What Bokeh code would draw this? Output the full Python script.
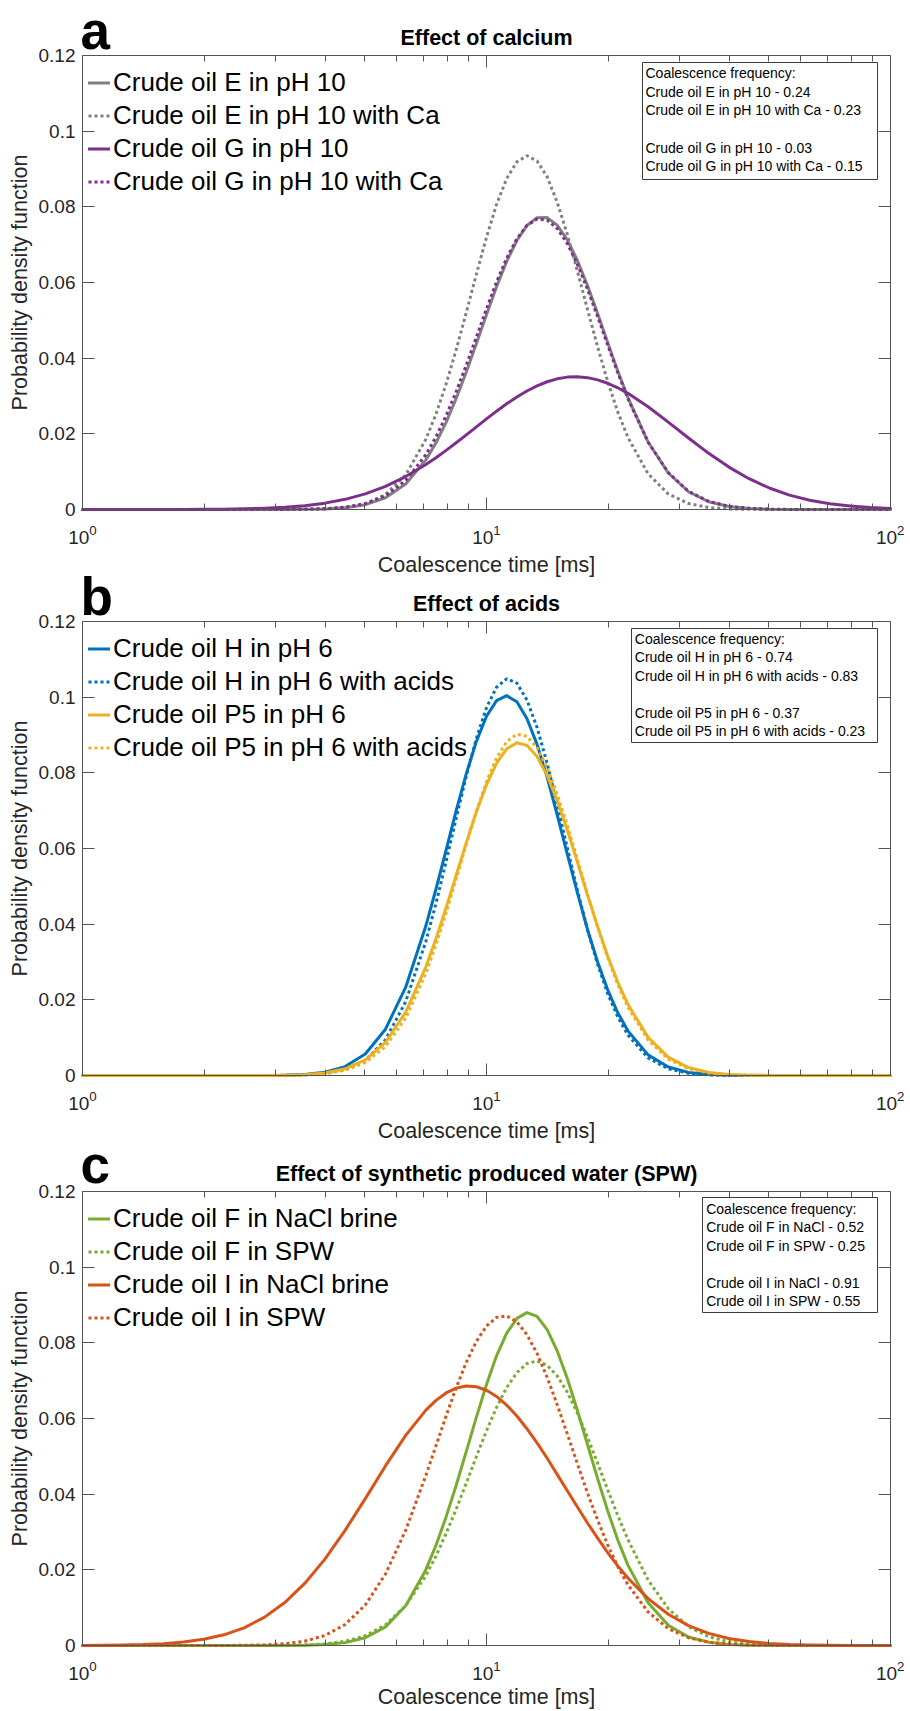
import math
from bokeh.plotting import figure
from bokeh.models import (LogAxis, LinearAxis, FixedTicker, Range1d, Legend, LegendItem,
                          Label, BoxAnnotation)
from bokeh.embed import file_html
from bokeh.resources import INLINE

# ---------------- data ----------------
time_ms = [1.0, 1.122, 1.259, 1.413, 1.585, 1.778, 1.995, 2.239, 2.512, 2.818,
           3.162, 3.548, 3.981, 4.467, 5.012, 5.623, 6.310, 7.079,
           7.499, 7.943, 8.414, 8.913, 9.441, 10.0, 10.59, 11.22, 11.89, 12.59,
           13.34, 14.13, 14.96, 15.85, 16.79, 17.78, 18.84, 19.95, 21.13, 22.39,
           25.12, 28.18, 31.62, 35.48, 39.81, 44.67, 50.12, 56.23, 63.10, 70.79,
           79.43, 89.13, 100.0]

# panel a - effect of calcium
e_ph10 = [0, 0, 0, 0, 0, 0, 0, 0, 0, 0,
          0.00001, 0.00005, 0.00016, 0.00047, 0.00128, 0.0031, 0.00672, 0.01312,
          0.01763, 0.02303, 0.02934, 0.03634, 0.04385, 0.0515, 0.0589, 0.06559, 0.0711, 0.07505,
          0.07712, 0.07716, 0.07516, 0.07129, 0.06583, 0.05919, 0.05181, 0.04416, 0.03663, 0.0296,
          0.01783, 0.00965, 0.00469, 0.00205, 0.00081, 0.00028, 0.00009, 0.00002, 0, 0,
          0, 0, 0]
e_ph10_ca = [0, 0, 0, 0, 0, 0, 0, 0, 0, 0,
             0.00001, 0.00004, 0.00015, 0.0005, 0.00151, 0.00397, 0.00914, 0.01858,
             0.02522, 0.03315, 0.04223, 0.05209, 0.06221, 0.07197, 0.08063, 0.08747, 0.09189, 0.0935,
             0.09213, 0.08792, 0.08124, 0.07271, 0.06302, 0.0529, 0.043, 0.03385, 0.02581, 0.01905,
             0.00943, 0.00411, 0.00157, 0.00053, 0.00016, 0.00004, 0.00001, 0, 0, 0,
             0, 0, 0]
g_ph10 = [0, 0, 0, 0, 0.00001, 0.00002, 0.00004, 0.00009, 0.00017, 0.00032,
          0.00058, 0.00101, 0.00168, 0.00269, 0.00414, 0.00612, 0.00871, 0.0119,
          0.0137, 0.01563, 0.01764, 0.01973, 0.02184, 0.02394, 0.02599, 0.02793, 0.02973, 0.03132,
          0.03269, 0.03377, 0.03454, 0.03499, 0.03509, 0.03485, 0.03427, 0.03337, 0.03217, 0.03071,
          0.02717, 0.0231, 0.01889, 0.01484, 0.01121, 0.00814, 0.00568, 0.00381, 0.00246, 0.00152,
          0.00091, 0.00052, 0.00029]
g_ph10_ca = [0, 0, 0, 0, 0, 0, 0, 0, 0, 0,
             0.00002, 0.00007, 0.00021, 0.00061, 0.00156, 0.00364, 0.00766, 0.01451,
             0.01921, 0.02478, 0.03117, 0.03819, 0.04559, 0.05305, 0.06015, 0.06646, 0.07156, 0.07509,
             0.07677, 0.07649, 0.07427, 0.07028, 0.0648, 0.05822, 0.05098, 0.04349, 0.03617, 0.02931,
             0.0178, 0.00975, 0.00482, 0.00215, 0.00086, 0.00031, 0.0001, 0.00003, 0, 0,
             0, 0, 0]

# panel b - effect of acids
h_ph6 = [0, 0, 0, 0, 0, 0, 0, 0, 0, 0.00002,
         0.00008, 0.00028, 0.00087, 0.00236, 0.0057, 0.01224, 0.02334, 0.03957,
         0.04929, 0.0596, 0.06998, 0.07979, 0.08833, 0.09494, 0.09907, 0.1004, 0.09877, 0.09436,
         0.08752, 0.07882, 0.06892, 0.05851, 0.04824, 0.0386, 0.03, 0.02264, 0.01659, 0.0118,
         0.00546, 0.00225, 0.00082, 0.00027, 0.00008, 0.00002, 0, 0, 0, 0,
         0, 0, 0]
h_ph6_acids = [0, 0, 0, 0, 0, 0, 0, 0, 0, 0.00001,
               0.00004, 0.00014, 0.00049, 0.00149, 0.004, 0.00943, 0.01952, 0.03545,
               0.04551, 0.05653, 0.06799, 0.07914, 0.08914, 0.09722, 0.10262, 0.10486, 0.1037, 0.09927,
               0.09199, 0.0825, 0.07163, 0.06018, 0.04896, 0.03854, 0.02937, 0.02166, 0.01546, 0.01069,
               0.00463, 0.00176, 0.00059, 0.00017, 0.00004, 0, 0, 0, 0, 0,
               0, 0, 0]
p5_ph6 = [0, 0, 0, 0, 0, 0, 0, 0, 0, 0.00002,
          0.00007, 0.00023, 0.00067, 0.00176, 0.00414, 0.00878, 0.01675, 0.02872,
          0.03616, 0.04432, 0.05292, 0.06154, 0.06969, 0.07685, 0.08254, 0.08634, 0.08796, 0.08726,
          0.0843, 0.07933, 0.0727, 0.06488, 0.05639, 0.04773, 0.03935, 0.03159, 0.0247, 0.01881,
          0.01008, 0.00485, 0.0021, 0.00082, 0.00029, 0.00009, 0.00003, 0, 0, 0,
          0, 0, 0]
p5_ph6_acids = [0, 0, 0, 0, 0, 0, 0, 0, 0, 0.00001,
                0.00005, 0.00016, 0.0005, 0.00138, 0.00343, 0.00765, 0.01521, 0.02704,
                0.03458, 0.043, 0.05198, 0.06112, 0.06987, 0.07768, 0.08396, 0.08825, 0.0902, 0.08965,
                0.08663, 0.08141, 0.0744, 0.06611, 0.05712, 0.04799, 0.0392, 0.03114, 0.02406, 0.01807,
                0.00937, 0.00434, 0.0018, 0.00067, 0.00022, 0.00007, 0.00002, 0, 0, 0,
                0, 0, 0]

# panel c - effect of synthetic produced water
f_nacl = [0, 0, 0, 0, 0, 0, 0, 0, 0, 0,
          0.00002, 0.00007, 0.00025, 0.00076, 0.00205, 0.00493, 0.01053, 0.02005,
          0.02649, 0.03399, 0.04236, 0.0513, 0.06035, 0.06897, 0.07656, 0.08255, 0.08647, 0.08799,
          0.08698, 0.08351, 0.0779, 0.07058, 0.06213, 0.05312, 0.04412, 0.0356, 0.0279, 0.02124,
          0.01129, 0.00534, 0.00225, 0.00084, 0.00028, 0.00008, 0.00002, 0, 0, 0,
          0, 0, 0]
f_spw = [0, 0, 0, 0, 0, 0, 0, 0, 0, 0.00001,
         0.00005, 0.00015, 0.00043, 0.0011, 0.00257, 0.00545, 0.01053, 0.0185,
         0.02367, 0.02956, 0.03605, 0.04295, 0.04996, 0.05675, 0.06294, 0.06819, 0.07214, 0.07452,
         0.0752, 0.07407, 0.07127, 0.06696, 0.06143, 0.05505, 0.04817, 0.04116, 0.03434, 0.02799,
         0.0173, 0.00973, 0.00498, 0.00232, 0.00098, 0.00038, 0.00013, 0.00004, 0.00001, 0,
         0, 0, 0]
i_nacl = [0.00002, 0.00006, 0.00012, 0.00024, 0.00048, 0.00091, 0.00164, 0.00283, 0.00468, 0.00744,
          0.01128, 0.0164, 0.02283, 0.03043, 0.03883, 0.04746, 0.05554, 0.06223,
          0.0648, 0.06676, 0.06803, 0.06858, 0.06839, 0.06746, 0.06582, 0.06354, 0.06066, 0.0573,
          0.05354, 0.04948, 0.04524, 0.04091, 0.0366, 0.03239, 0.02836, 0.02456, 0.02104, 0.01783,
          0.01239, 0.00825, 0.00525, 0.00321, 0.00187, 0.00105, 0.00056, 0.00029, 0.00014, 0.00007,
          0.00003, 0.00001, 0.00001]
i_spw = [0, 0, 0, 0, 0, 0, 0, 0.00002, 0.00005, 0.00016,
         0.00045, 0.00114, 0.00263, 0.00555, 0.01071, 0.0189, 0.03048, 0.04498,
         0.05283, 0.06067, 0.06815, 0.07485, 0.0804, 0.08444, 0.08673, 0.08711, 0.08556, 0.08218,
         0.07718, 0.07089, 0.06366, 0.05592, 0.04803, 0.04035, 0.03314, 0.02661, 0.0209, 0.01605,
         0.00885, 0.00446, 0.00206, 0.00087, 0.00033, 0.00012, 0.00004, 0.00001, 0, 0,
         0, 0, 0]

labels_a = ["Crude oil E in pH 10", "Crude oil E in pH 10 with Ca",
            "Crude oil G in pH 10", "Crude oil G in pH 10 with Ca"]
labels_b = ["Crude oil H in pH 6", "Crude oil H in pH 6 with acids",
            "Crude oil P5 in pH 6", "Crude oil P5 in pH 6 with acids"]
labels_c = ["Crude oil F in NaCl brine", "Crude oil F in SPW",
            "Crude oil I in NaCl brine", "Crude oil I in SPW"]

freq_a = ["Coalescence frequency:", "Crude oil E in pH 10 - 0.24", "Crude oil E in pH 10 with Ca - 0.23",
          " ", "Crude oil G in pH 10 - 0.03", "Crude oil G in pH 10 with Ca - 0.15"]
freq_b = ["Coalescence frequency:", "Crude oil H in pH 6 - 0.74", "Crude oil H in pH 6 with acids - 0.83",
          " ", "Crude oil P5 in pH 6 - 0.37", "Crude oil P5 in pH 6 with acids - 0.23"]
freq_c = ["Coalescence frequency:", "Crude oil F in NaCl - 0.52", "Crude oil F in SPW - 0.25",
          " ", "Crude oil I in NaCl - 0.91", "Crude oil I in SPW - 0.55"]

x_major = [1, 10, 100]
x_minor = [2, 3, 4, 5, 6, 7, 8, 9, 20, 30, 40, 50, 60, 70, 80, 90]
y_ticks = [0, 0.02, 0.04, 0.06, 0.08, 0.1, 0.12]
y_tick_text = ["0", "0.02", "0.04", "0.06", "0.08", "0.1", "0.12"]

GRAY, PURPLE = "#808080", "#7E2F8E"
BLUE, YELLOW = "#0072BD", "#EDB120"
GREEN, ORANGE = "#77AC30", "#D95319"

AX = "#555555"
FONT = "Liberation Sans"

# ---------------- page layout (pixels) ----------------
PAGE_W, PAGE_H = 904, 1711
FRAME_L, DECADE_PX = 82, 404          # x=1 at 82 px, one decade = 404 px
PANEL_H = 454                          # height of each axes box
TOPS = {"default": 55, "b": 621, "c": 1191}


def X(px):
    return 10 ** ((px - FRAME_L) / DECADE_PX)


def Y(py, name):
    return 0.12 * (TOPS[name] + PANEL_H - py) / PANEL_H


p = figure(width=PAGE_W, height=PAGE_H, x_axis_type="log",
           x_range=Range1d(X(0), X(PAGE_W)),
           y_range=Range1d(Y(PAGE_H, "default"), Y(0, "default")),
           output_backend="svg", toolbar_location=None,
           x_axis_location=None, y_axis_location=None, min_border=0)
p.extra_y_ranges = {"b": Range1d(Y(PAGE_H, "b"), Y(0, "b")),
                    "c": Range1d(Y(PAGE_H, "c"), Y(0, "c"))}
p.outline_line_color = None
p.background_fill_color = "white"
p.border_fill_color = "white"
for g in p.xgrid + p.ygrid:
    g.visible = False


def style_axis(ax, show_labels):
    ax.axis_line_color = AX
    ax.major_tick_line_color = AX
    ax.minor_tick_line_color = AX
    ax.major_tick_in = 12
    ax.major_tick_out = 0
    ax.minor_tick_in = 6
    ax.minor_tick_out = 0
    ax.major_label_text_font = FONT
    ax.major_label_text_font_size = "19px"
    ax.major_label_text_color = "#262626"
    if not show_labels:
        ax.major_label_text_font_size = "0px"
        ax.major_label_text_alpha = 0
        ax.major_label_standoff = 0


def add_text(name, px, py_top, text, size, bold=False, align="left", angle=0.0, color="black"):
    p.add_layout(Label(x=X(px), y=Y(py_top, name), y_range_name=name, text=text,
                       text_font=FONT, text_font_size=size,
                       text_font_style="bold" if bold else "normal",
                       text_align=align, text_baseline="top", text_line_height=1.2,
                       angle=angle, text_color=color))


def panel(name, letter, letter_gap, title, series, labels, colors, freq_lines, box_px, text_px):
    T = TOPS[name]
    # axes box: four axes at fixed positions
    xb = LogAxis(y_range_name=name, fixed_location=0, bounds=(1, 100),
                 ticker=FixedTicker(ticks=x_major, minor_ticks=x_minor))
    style_axis(xb, True)
    xb.major_label_standoff = 15
    p.add_layout(xb, "below")
    xa = LogAxis(y_range_name=name, fixed_location=0.12, bounds=(1, 100),
                 ticker=FixedTicker(ticks=x_major, minor_ticks=x_minor))
    style_axis(xa, False)
    xa.major_label_overrides = {1: "", 10: "", 100: ""}
    p.add_layout(xa, "above")
    yl = LinearAxis(y_range_name=name, fixed_location=1, bounds=(0, 0.12),
                    ticker=FixedTicker(ticks=y_ticks, minor_ticks=[]))
    style_axis(yl, True)
    yl.major_label_overrides = {t: s for t, s in zip(y_ticks, y_tick_text)}
    yl.major_label_standoff = 7
    p.add_layout(yl, "left")
    yr = LinearAxis(y_range_name=name, fixed_location=100, bounds=(0, 0.12),
                    ticker=FixedTicker(ticks=y_ticks, minor_ticks=[]))
    style_axis(yr, False)
    yr.major_label_overrides = {t: "" for t in y_ticks}
    p.add_layout(yr, "right")

    dashes = ["solid", "3 3", "solid", "3 3"]
    items = []
    for ys, lab, col, dash in zip(series, labels, colors, dashes):
        r = p.line(time_ms, ys, y_range_name=name, line_color=col, line_width=3,
                   line_dash=dash, line_cap="butt" if dash != "solid" else "round",
                   line_join="round")
        items.append(LegendItem(label=lab, renderers=[r]))

    leg_h = 4 * 31 + 3 * 2 + 2 * 6
    leg = Legend(items=items, location=(FRAME_L, PAGE_H - (T + 5.5 + leg_h)),
                 margin=0, padding=6, spacing=2,
                 label_height=31, glyph_height=31, glyph_width=22, label_standoff=3,
                 border_line_alpha=0, background_fill_alpha=0,
                 label_text_font=FONT, label_text_font_size="26px",
                 label_text_color="black")
    p.add_layout(leg)

    l, r_, t, b = box_px
    p.add_layout(BoxAnnotation(left=X(l), right=X(r_), top=Y(t, name), bottom=Y(b, name),
                               y_range_name=name,
                               fill_color="white", fill_alpha=1.0,
                               line_color="#3a3a3a", line_width=1, line_alpha=1.0))
    p.add_layout(Label(x=X(text_px[0]), y=Y(text_px[1], name), y_range_name=name,
                       text="\n".join(freq_lines),
                       text_font=FONT, text_font_size="14px",
                       text_line_height=1.16, text_align="left", text_baseline="top",
                       text_color="black"))

    # panel letter, title, axis titles (baseline positions converted to text tops)
    add_text(name, 80, T - letter_gap - 0.9465 * 53, letter, "53px", bold=True)
    add_text(name, 486, T - 9 - 0.9465 * 21.5, title, "21.5px", bold=True, align="center")
    add_text(name, 486, min(T + PANEL_H + 64, PAGE_H - 6) - 0.9465 * 21.5,
             "Coalescence time [ms]", "21.5px", align="center", color="#262626")
    p.add_layout(Label(x=X(7.6), y=Y(T + PANEL_H / 2, name), y_range_name=name,
                       text="Probability density function", text_font=FONT,
                       text_font_size="21.5px", text_align="center", text_baseline="top",
                       text_line_height=1.2, angle=math.pi / 2, text_color="#262626"))


panel("default", "a", 4, "Effect of calcium",
      [e_ph10, e_ph10_ca, g_ph10, g_ph10_ca], labels_a,
      [GRAY, GRAY, PURPLE, PURPLE], freq_a,
      (642, 877, 62, 179), (645, 64.8))
panel("b", "b", 4, "Effect of acids",
      [h_ph6, h_ph6_acids, p5_ph6, p5_ph6_acids], labels_b,
      [BLUE, BLUE, YELLOW, YELLOW], freq_b,
      (631, 877, 628, 742), (634.3, 630.1))
panel("c", "c", 6, "Effect of synthetic produced water (SPW)",
      [f_nacl, f_spw, i_nacl, i_spw], labels_c,
      [GREEN, GREEN, ORANGE, ORANGE], freq_c,
      (702, 877, 1197, 1312), (705.7, 1200.1))

open("out.html", "w").write(file_html(p, INLINE))
